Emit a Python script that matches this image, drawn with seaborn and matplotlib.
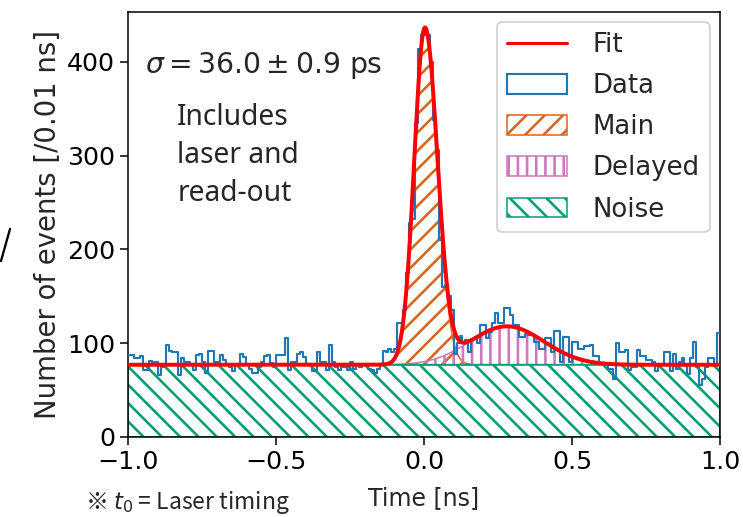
import numpy as np
import pandas as pd
import matplotlib
matplotlib.use("Agg")
import matplotlib.pyplot as plt
import seaborn as sns
from matplotlib.patches import Patch
from matplotlib.lines import Line2D

# ---------------- data ----------------
x_range = [-1.0, 1.0]
bin_width = 0.01
counts = [
    87, 87, 84, 84, 86, 71, 71, 81, 80, 80,
    66, 75, 75, 98, 92, 91, 91, 66, 84, 80,
    80, 78, 71, 87, 89, 80, 68, 92, 92, 80,
    80, 87, 82, 78, 75, 70, 78, 78, 89, 85,
    78, 73, 68, 68, 75, 80, 86, 87, 79, 75,
    87, 87, 87, 105, 71, 80, 80, 89, 91, 85,
    78, 78, 70, 70, 91, 80, 80, 71, 98, 80,
    75, 71, 75, 75, 71, 80, 73, 78, 75, 77,
    78, 73, 71, 68, 73, 77, 92, 91, 94, 91,
    94, 121, 121, 135, 175, 228, 232, 335, 414, 429,
    429, 428, 400, 338, 306, 210, 160, 162, 150, 135,
    89, 100, 108, 100, 103, 91, 104, 104, 100, 119,
    119, 105, 112, 121, 132, 121, 121, 137, 137, 130,
    119, 119, 107, 107, 110, 109, 109, 101, 101, 94,
    94, 105, 105, 91, 113, 113, 80, 107, 107, 80,
    101, 101, 94, 94, 97, 97, 98, 86, 86, 78,
    78, 78, 73, 73, 62, 100, 91, 91, 93, 71,
    75, 75, 93, 86, 86, 82, 82, 80, 70, 78,
    78, 91, 91, 70, 89, 73, 80, 84, 78, 67,
    84, 101, 75, 55, 62, 75, 84, 84, 77, 111,
]

# fit parameters
noise_level = 77.0
main_amp = 356.0
main_mu = 0.003
main_sigma_left = 0.036
main_sigma_right = 0.042
delay_amp = 41.0
delay_mu = 0.28
delay_sigma = 0.125

legend_labels = ["Fit", "Data", "Main", "Delayed", "Noise"]
x_ticks = [-1.0, -0.5, 0.0, 0.5, 1.0]
y_ticks = [0, 100, 200, 300, 400]

# ---------------- styling ----------------
sns.set_theme(style="ticks")
plt.rcParams["font.family"] = ["DejaVu Sans", "Noto Sans CJK JP"]
plt.rcParams["hatch.linewidth"] = 1.7
plt.rcParams["axes.linewidth"] = 1.0
plt.rcParams["xtick.major.size"] = 5
plt.rcParams["ytick.major.size"] = 5
plt.rcParams["axes.edgecolor"] = "black"

c_data = "#1f77b4"
c_main = "#d9661a"
c_delay = "#cc78bc"
c_noise = "#029e73"
c_fit = "red"

h_main = "//"
h_delay = "||"
h_noise = "\\\\"

DPI = 110
fig = plt.figure(figsize=(743 / DPI, 517 / DPI), dpi=DPI)
ax = fig.add_axes([128 / 743, 1 - 437 / 517, 592 / 743, 425 / 517])

n_bins = len(counts)
edges = np.linspace(x_range[0], x_range[1], n_bins + 1)
centers = (edges[:-1] + edges[1:]) / 2
df = pd.DataFrame({"t": centers, "n": counts})

# fit components
xf = np.linspace(x_range[0], x_range[1], 4001)
sig_main = np.where(xf < main_mu, main_sigma_left, main_sigma_right)
main = main_amp * np.exp(-0.5 * ((xf - main_mu) / sig_main) ** 2)
delayed = delay_amp * np.exp(-0.5 * ((xf - delay_mu) / delay_sigma) ** 2)
noise = np.full_like(xf, noise_level)
fit = noise + main + delayed

m_main = main > 0.3
ax.fill_between(xf[m_main], noise[m_main], (noise + main)[m_main],
                facecolor="none", edgecolor=c_main, hatch=h_main, lw=1.0, zorder=2)
m_del = delayed > 0.3
ax.fill_between(xf[m_del], noise[m_del], (noise + delayed)[m_del],
                facecolor="none", edgecolor=c_delay, hatch=h_delay, lw=1.0, zorder=2)
ax.fill_between(xf, 0, noise, facecolor="none", edgecolor=c_noise,
                hatch=h_noise, lw=1.2, zorder=2)

sns.histplot(data=df, x="t", weights="n", bins=n_bins, binrange=tuple(x_range),
             element="step", fill=False, color=c_data, linewidth=1.4, ax=ax,
             zorder=3)
sns.lineplot(x=xf, y=fit, color=c_fit, linewidth=2.6, ax=ax, zorder=4)

ax.set_xlim(x_range)
ax.set_ylim(0, 453)
ax.set_xticks(x_ticks)
ax.set_yticks(y_ticks)
ax.tick_params(labelsize=16.5, colors="black", width=1.0)
ax.set_xlabel("Time [ns]", fontsize=15.5, labelpad=8)
ax.set_ylabel("Number of events [/0.01 ns]", fontsize=18, labelpad=3)

handles = [
    Line2D([], [], color=c_fit, lw=2),
    Patch(facecolor="none", edgecolor=c_data, lw=1.4),
    Patch(facecolor="none", edgecolor=c_main, hatch=h_main),
    Patch(facecolor="none", edgecolor=c_delay, hatch=h_delay),
    Patch(facecolor="none", edgecolor=c_noise, hatch=h_noise),
]
ax.legend(handles, legend_labels, loc="upper right", fontsize=17,
          handlelength=2.3, handleheight=0.8, labelspacing=0.58,
          handletextpad=1.0, borderpad=0.38, borderaxespad=0.4, framealpha=1)

ax.text(0.029, 0.873, r"$\sigma = 36.0 \pm 0.9$ ps", transform=ax.transAxes,
        fontsize=18.5, ha="left", va="center")
ax.text(0.083, 0.785, "Includes\nlaser and\nread-out", transform=ax.transAxes,
        fontsize=18.5, ha="left", va="top", linespacing=1.4,
        family=["Noto Sans", "DejaVu Sans"])

fig.text(85 / 743, 1 - 503 / 517, "※ $t_0$ = Laser timing", fontsize=15,
         ha="left", va="center", family=["Noto Sans CJK JP", "DejaVu Sans"])
fig.add_artist(Line2D([10 / 743, 1 / 743], [1 - 229 / 517, 1 - 261 / 517],
                      color="black", lw=1.5))

fig.savefig("out.png", dpi=DPI)
